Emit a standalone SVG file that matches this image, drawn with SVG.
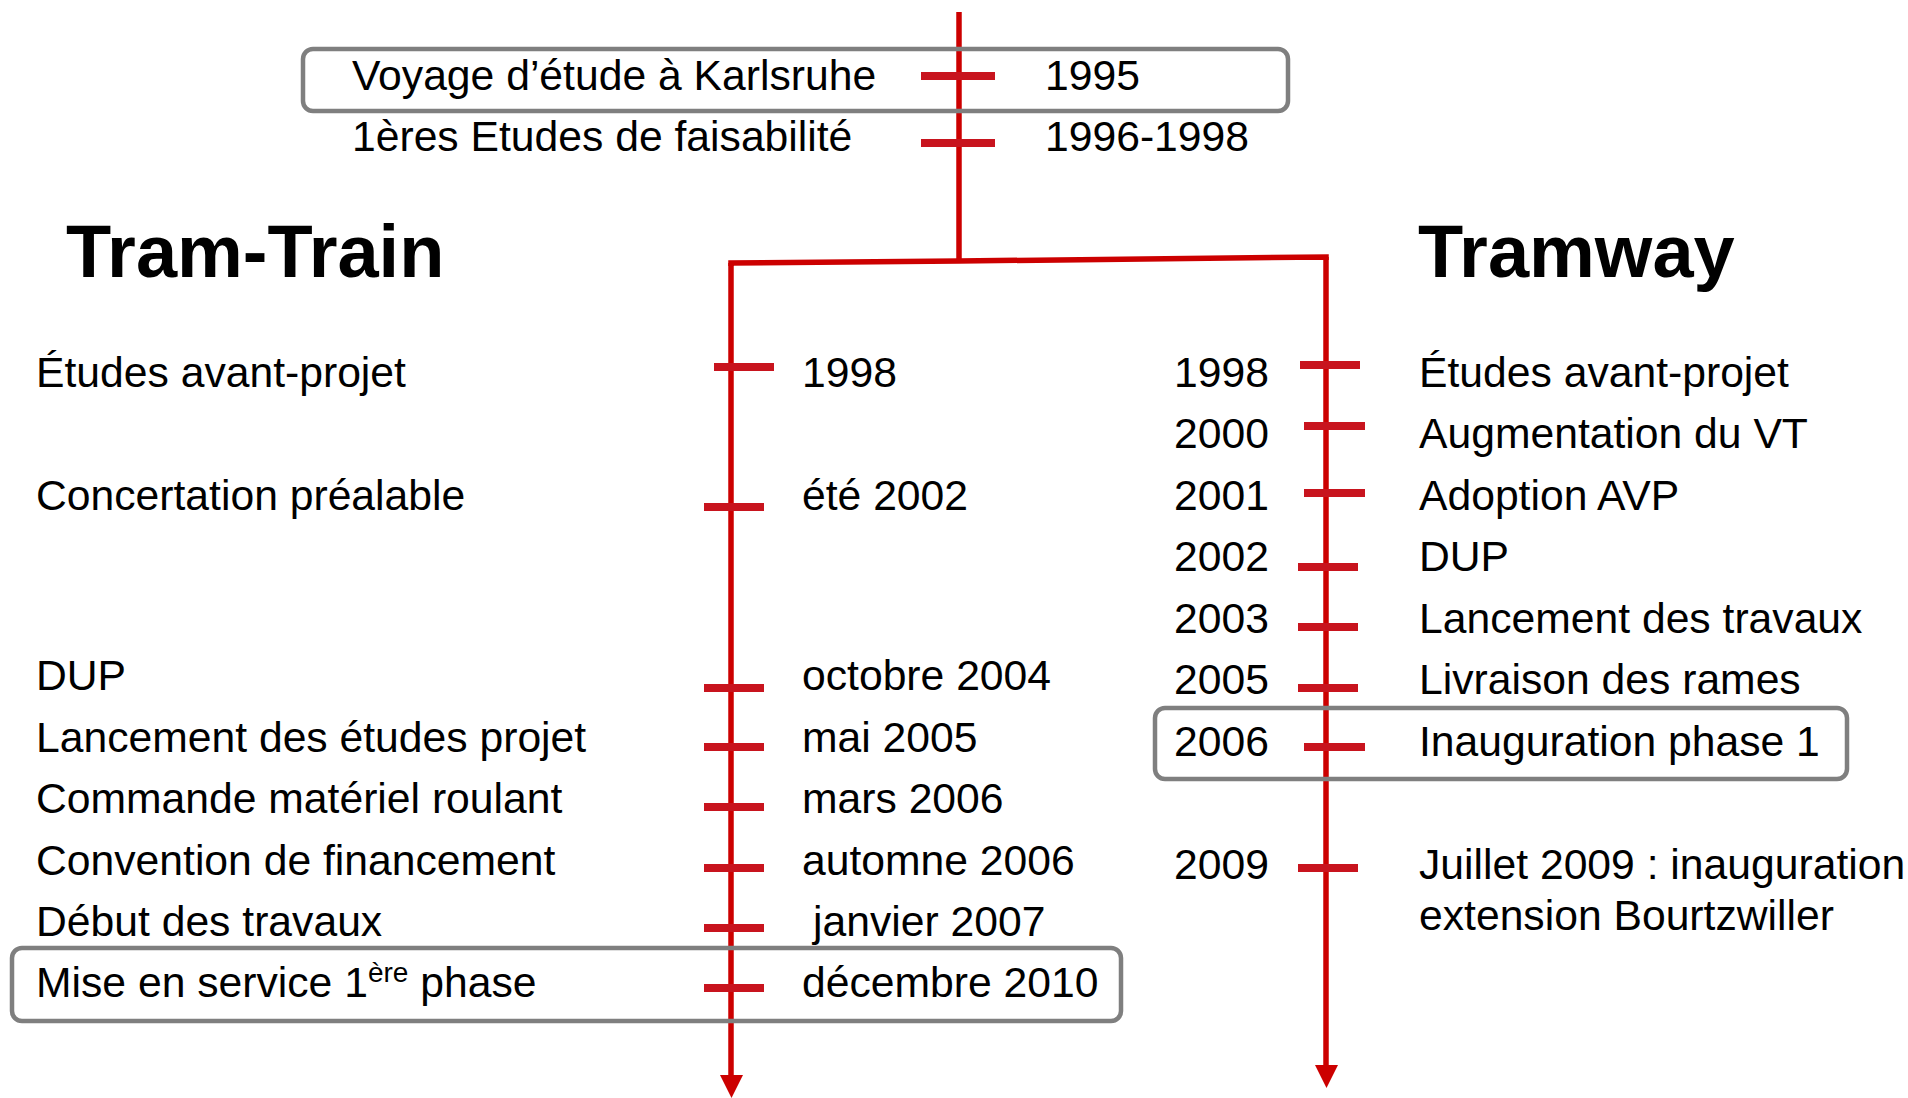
<svg xmlns="http://www.w3.org/2000/svg" width="1908" height="1098" viewBox="0 0 1908 1098">
<style>
.t{font-family:"Liberation Sans",Arial,sans-serif;font-size:42.67px;fill:#000}
.h{font-family:"Liberation Sans",Arial,sans-serif;font-size:74px;font-weight:bold;fill:#000}
.sup{font-size:28px}
.box{fill:none;stroke:#7f7f7f;stroke-width:4.5}
.line{fill:none;stroke:#cc0000;stroke-width:5.5}
.tick{stroke:#c8141e;stroke-width:8}
</style>
<rect width="1908" height="1098" fill="#fff"/>

<g id="connectors">
<path class="line" d="M959,12 V261"/>
<path class="line" d="M731,266 V263 L959,261 L1326,257 V260"/>
<path class="line" d="M731,263 V1078"/>
<path d="M720,1075 L743,1075 L731.5,1098 z" fill="#cc0000"/>
<path class="line" d="M1326,257 V1068"/>
<path d="M1315,1065 L1338,1065 L1326.5,1088 z" fill="#cc0000"/>
<g id="ticks-top">
<line class="tick" x1="921" y1="76" x2="995" y2="76"/>
<line class="tick" x1="921" y1="143" x2="995" y2="143"/>
</g>
<g id="ticks-left">
<line class="tick" x1="714" y1="367" x2="774" y2="367"/>
<line class="tick" x1="704" y1="507" x2="764" y2="507"/>
<line class="tick" x1="704" y1="688" x2="764" y2="688"/>
<line class="tick" x1="704" y1="747" x2="764" y2="747"/>
<line class="tick" x1="704" y1="807" x2="764" y2="807"/>
<line class="tick" x1="704" y1="868" x2="764" y2="868"/>
<line class="tick" x1="704" y1="928" x2="764" y2="928"/>
<line class="tick" x1="704" y1="988" x2="764" y2="988"/>
</g>
<g id="ticks-right">
<line class="tick" x1="1300" y1="365" x2="1360" y2="365"/>
<line class="tick" x1="1304" y1="426" x2="1365" y2="426"/>
<line class="tick" x1="1304" y1="493" x2="1365" y2="493"/>
<line class="tick" x1="1298" y1="567" x2="1358" y2="567"/>
<line class="tick" x1="1298" y1="627" x2="1358" y2="627"/>
<line class="tick" x1="1298" y1="688" x2="1358" y2="688"/>
<line class="tick" x1="1304" y1="747" x2="1365" y2="747"/>
<line class="tick" x1="1298" y1="868" x2="1358" y2="868"/>
</g>
</g>

<g id="top-1995">
<rect class="box" x="303" y="49" width="985" height="62" rx="10"/>
<text class="t" x="352" y="90">Voyage d’étude à Karlsruhe</text>
<text class="t" x="1045" y="90">1995</text>
</g>
<g id="top-1996">
<text class="t" x="352" y="151">1ères Etudes de faisabilité</text>
<text class="t" x="1045" y="151">1996-1998</text>
</g>

<g id="title-tramtrain"><text class="h" x="66" y="277">Tram-Train</text></g>
<g id="title-tramway"><text class="h" x="1418" y="277">Tramway</text></g>

<g id="tt-1998"><text class="t" x="36" y="387">Études avant-projet</text><text class="t" x="802" y="387">1998</text></g>
<g id="tt-2002"><text class="t" x="36" y="510">Concertation préalable</text><text class="t" x="802" y="510">été 2002</text></g>
<g id="tt-2004"><text class="t" x="36" y="690">DUP</text><text class="t" x="802" y="690">octobre 2004</text></g>
<g id="tt-2005"><text class="t" x="36" y="752">Lancement des études projet</text><text class="t" x="802" y="752">mai 2005</text></g>
<g id="tt-2006a"><text class="t" x="36" y="813">Commande matériel roulant</text><text class="t" x="802" y="813">mars 2006</text></g>
<g id="tt-2006b"><text class="t" x="36" y="875">Convention de financement</text><text class="t" x="802" y="875">automne 2006</text></g>
<g id="tt-2007"><text class="t" x="36" y="936">Début des travaux</text><text class="t" x="813" y="936">janvier 2007</text></g>
<g id="tt-2010">
<rect class="box" x="12" y="948" width="1109" height="73" rx="10"/>
<text class="t" x="36" y="997">Mise en service 1<tspan class="sup" dy="-15">ère</tspan><tspan dy="15"> phase</tspan></text>
<text class="t" x="802" y="997">décembre 2010</text>
</g>

<g id="tw-1998"><text class="t" x="1174" y="387">1998</text><text class="t" x="1419" y="387">Études avant-projet</text></g>
<g id="tw-2000"><text class="t" x="1174" y="448">2000</text><text class="t" x="1419" y="448">Augmentation du VT</text></g>
<g id="tw-2001"><text class="t" x="1174" y="510">2001</text><text class="t" x="1419" y="510">Adoption AVP</text></g>
<g id="tw-2002"><text class="t" x="1174" y="571">2002</text><text class="t" x="1419" y="571">DUP</text></g>
<g id="tw-2003"><text class="t" x="1174" y="633">2003</text><text class="t" x="1419" y="633">Lancement des travaux</text></g>
<g id="tw-2005"><text class="t" x="1174" y="694">2005</text><text class="t" x="1419" y="694">Livraison des rames</text></g>
<g id="tw-2006">
<rect class="box" x="1155" y="708" width="692" height="71" rx="10"/>
<text class="t" x="1174" y="756">2006</text><text class="t" x="1419" y="756">Inauguration phase 1</text>
</g>
<g id="tw-2009">
<text class="t" x="1174" y="879">2009</text>
<text class="t" x="1419" y="879">Juillet 2009 : inauguration</text>
<text class="t" x="1419" y="930">extension Bourtzwiller</text>
</g>
</svg>
